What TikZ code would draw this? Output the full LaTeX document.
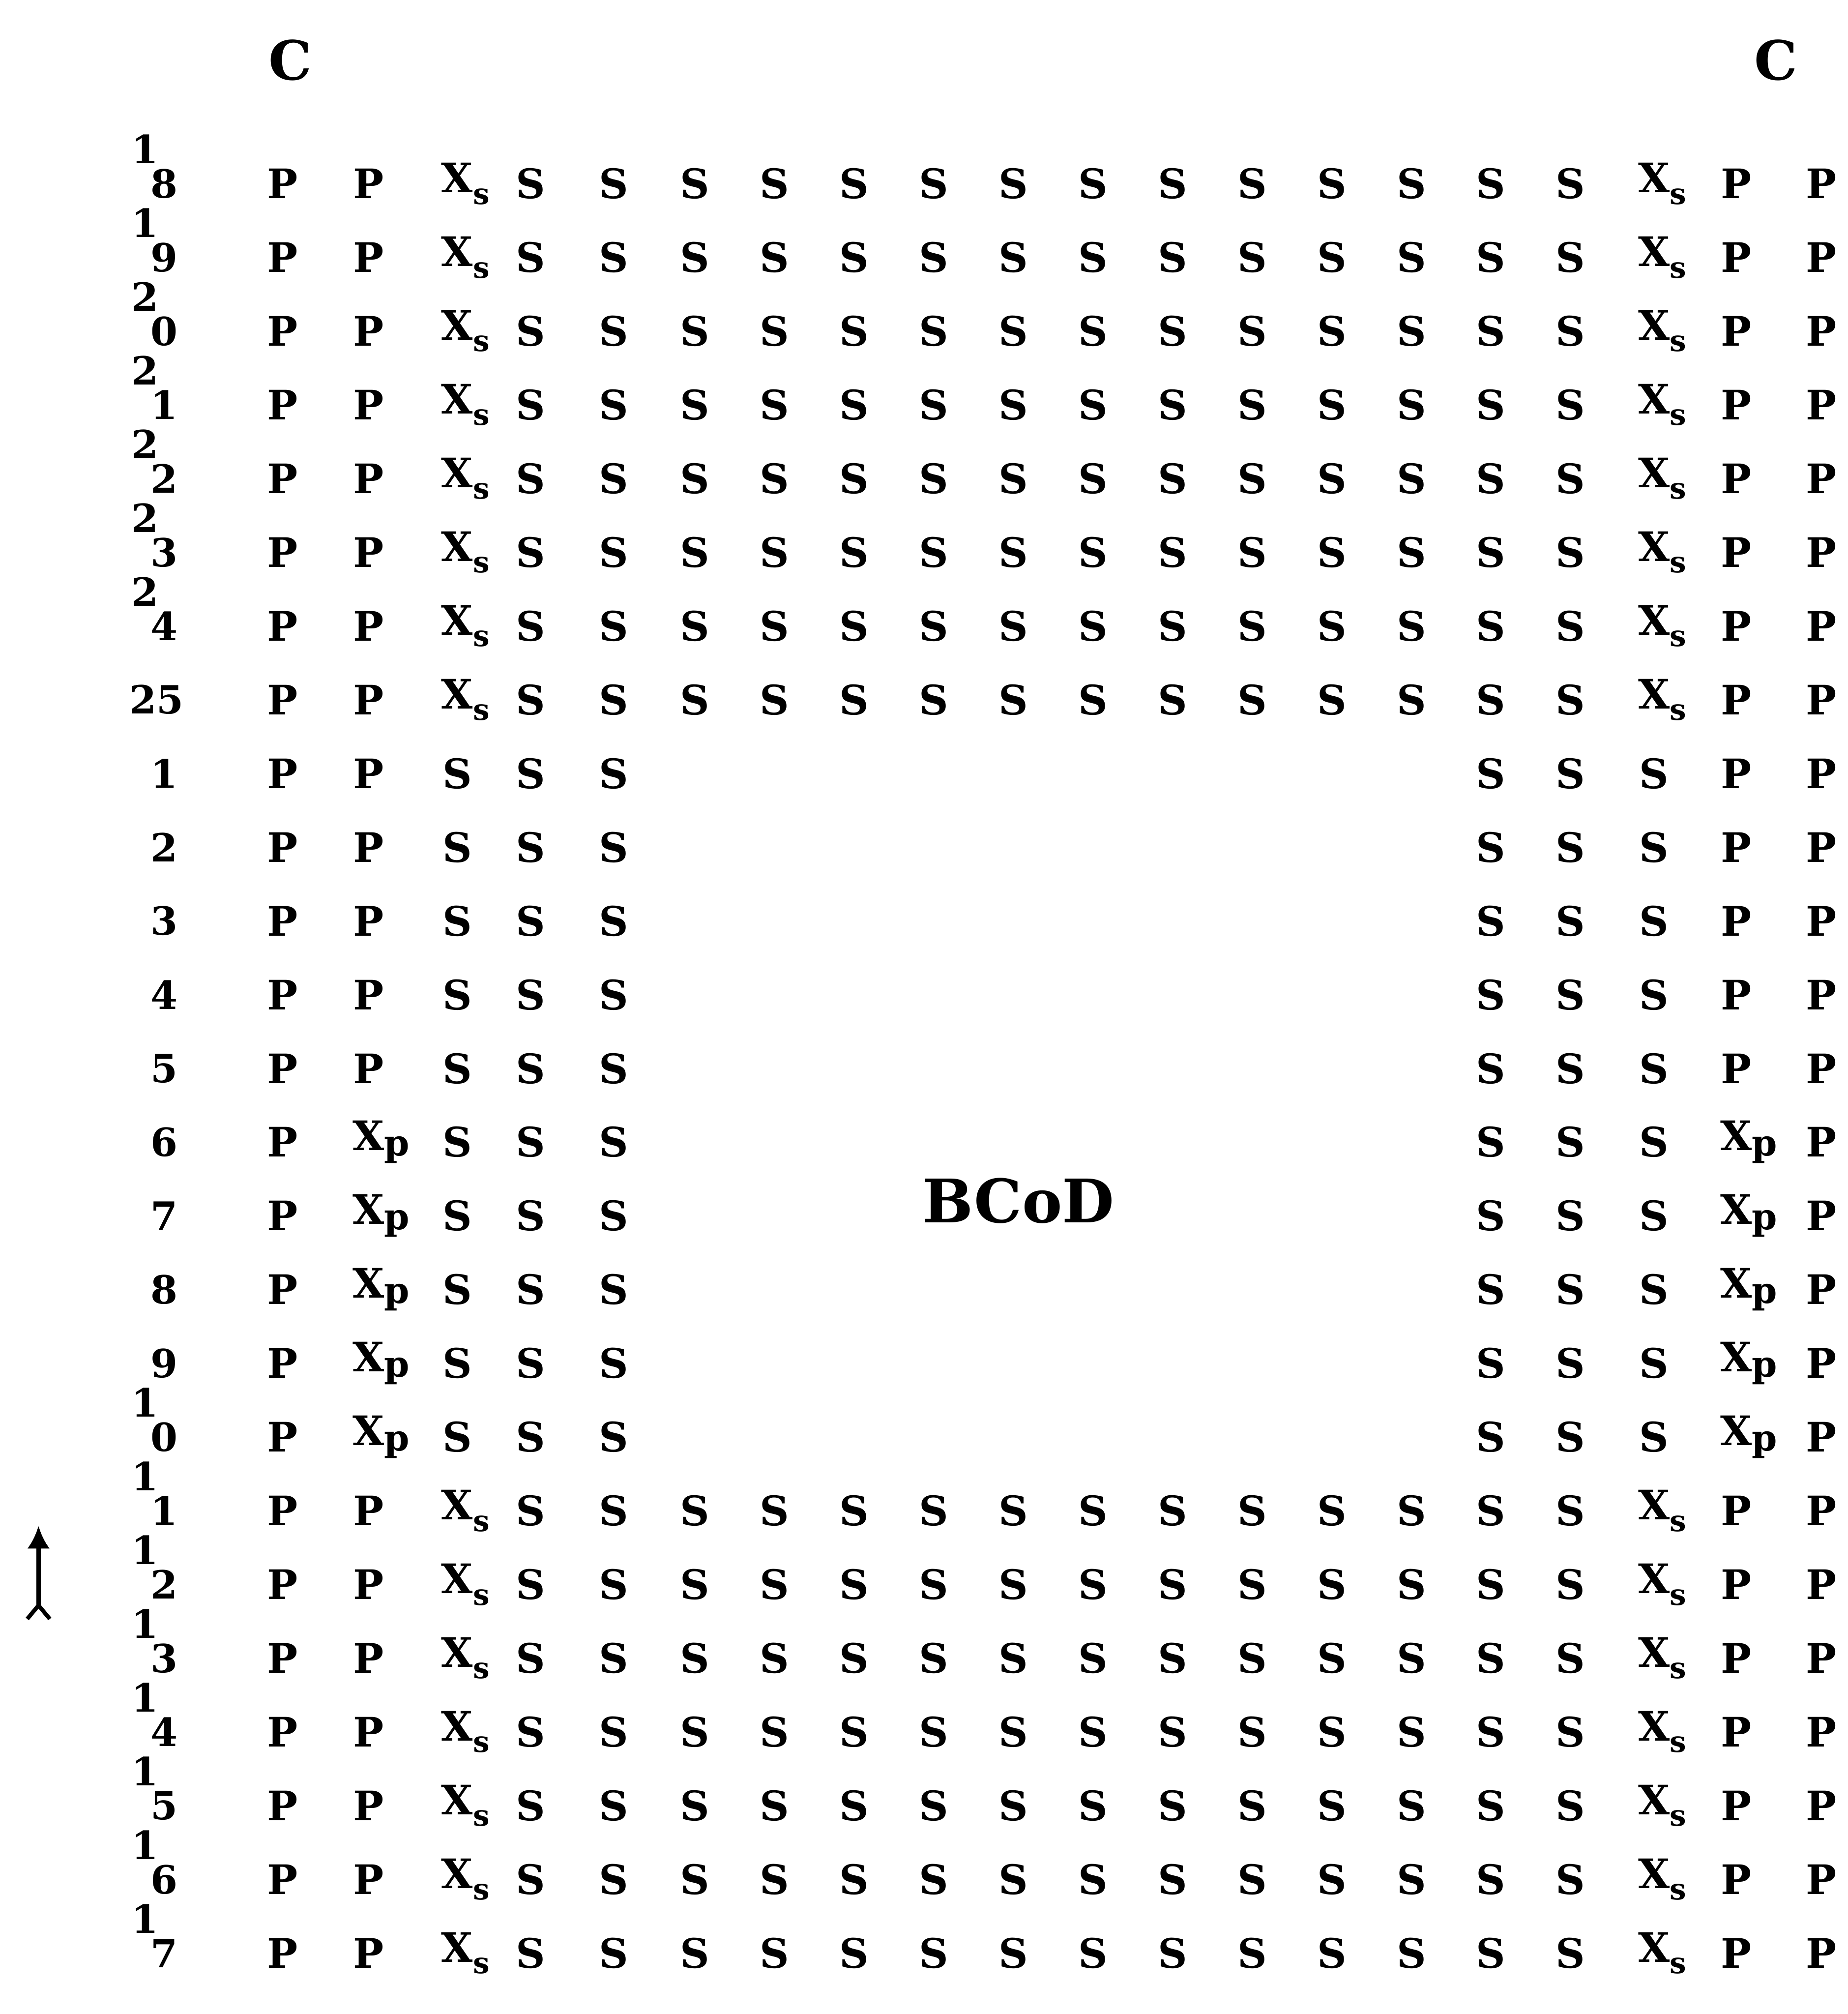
\documentclass[tikz,border=0pt]{standalone}
\usepackage{fontspec}
\setmainfont{DejaVu Serif}
\usetikzlibrary{arrows.meta}
\newcommand\Xsub[1]{X\rlap{\raisebox{-0.55ex}{\fontsize{6.5}{6.5}\selectfont #1}}}
\newcommand\Xpsub{X\rlap{\raisebox{-0.25ex}{\fontsize{8}{8}\selectfont p}}}
\begin{document}
\begin{tikzpicture}[x=0.01cm,y=-0.01cm,
  cell/.style={font=\fontsize{9}{9}\selectfont\bfseries, inner sep=0pt, anchor=center},
  lbl/.style={font=\fontsize{8.6}{8.6}\selectfont\bfseries, inner sep=0pt, anchor=center},
  corner/.style={font=\fontsize{12}{12}\selectfont\bfseries, inner sep=0pt},
  centre/.style={font=\fontsize{13.3}{13.3}\selectfont\bfseries, inner sep=0pt},
  pointer/.style={line width=0.9pt, {Straight Barb[reversed,length=3pt,width=5pt]}-{Latex[length=5pt,width=5pt]}}]
\fill[white] (0,0) rectangle (1439,1568);
\useasboundingbox (0,0) rectangle (1439,1568);
\def\cols{220,287,356,413,478,541,603,665,727,789,851,913,975,1037,1099,1161,1223,1288,1352,1418}
% corner letters
\node[corner] (cL) at (226,47) {C};
\node[corner] (cR) at (1383,47) {C};
% centre label
\node[centre] (bcod) at (793,935) {BCoD};
% full rows: 18..25 (k=0..7) and 11..17 (k=18..24)
\foreach \k in {0,1,2,3,4,5,6,7,18,19,20,21,22,23,24}{
  \pgfmathsetmacro\yy{143+57.4*\k}
  \foreach \xx [count=\i from 0] in \cols{
    \node[cell] (r\k c\i) at (\xx,\yy) {\ifnum\i<2 P\else\ifnum\i=2 \Xsub{s}\else\ifnum\i<17 S\else\ifnum\i=17 \Xsub{s}\else P\fi\fi\fi\fi};
  }
}
% middle rows 1..5 (k=8..12)
\foreach \k in {8,...,12}{
  \pgfmathsetmacro\yy{143+57.4*\k}
  \foreach \xx [count=\i from 0] in \cols{
    \ifnum\i<5
      \node[cell] (r\k c\i) at (\xx,\yy) {\ifnum\i<2 P\else S\fi};
    \fi
    \ifnum\i>14
      \node[cell] (r\k c\i) at (\xx,\yy) {\ifnum\i<18 S\else P\fi};
    \fi
  }
}
% middle rows 6..10 (k=13..17)
\foreach \k in {13,...,17}{
  \pgfmathsetmacro\yy{143+57.4*\k}
  \foreach \xx [count=\i from 0] in \cols{
    \ifnum\i<5
      \node[cell] (r\k c\i) at (\xx,\yy) {\ifnum\i=0 P\else\ifnum\i=1 \Xpsub\else S\fi\fi};
    \fi
    \ifnum\i>14
      \node[cell] (r\k c\i) at (\xx,\yy) {\ifnum\i<18 S\else\ifnum\i=18 \Xpsub\else P\fi\fi};
    \fi
  }
}
% row labels with staggered tens digit
\foreach \k/\t/\u in {0/1/8,1/1/9,2/2/0,3/2/1,4/2/2,5/2/3,6/2/4,18/1/1,19/1/2,20/1/3,21/1/4,22/1/5,23/1/6,24/1/7,17/1/0}{
  \pgfmathsetmacro\yy{143+57.4*\k}
  \node[lbl] (lt\k) at (113,\yy-27) {\t};
  \node[lbl] (lu\k) at (128,\yy) {\u};
}
\node[lbl] (lu7) at (122,{143+57.4*7}) {25};
\foreach \k/\u in {8/1,9/2,10/3,11/4,12/5,13/6,14/7,15/8,16/9}{
  \pgfmathsetmacro\yy{143+57.4*\k}
  \node[lbl] (lu\k) at (128,\yy) {\u};
}
% arrow at lower left
\coordinate (arrTail) at (30,1262);
\coordinate (arrTip) at (30,1188);
\draw[pointer] (arrTail) -- (arrTip);
\end{tikzpicture}
\end{document}
